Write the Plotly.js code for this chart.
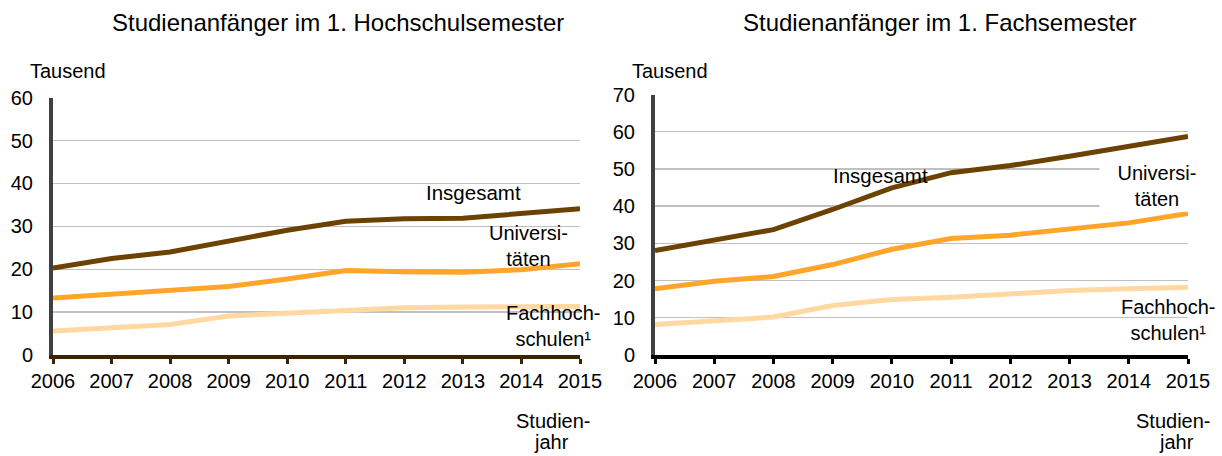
<!DOCTYPE html>
<html>
<head>
<meta charset="utf-8">
<script src="https://cdn.plot.ly/plotly-3.0.1.min.js"></script>
<style>html,body{margin:0;padding:0;background:#fff;}#chart{width:1222px;height:456px;}</style>
</head>
<body>
<div id="chart"></div>
<script>
// ---- data (thousands) ----
const years = [2006, 2007, 2008, 2009, 2010, 2011, 2012, 2013, 2014, 2015];

// Left: Studienanfänger im 1. Hochschulsemester
const hsInsgesamt = [20.3, 22.5, 24.0, 26.6, 29.1, 31.2, 31.8, 31.9, 32.9, 34.1];
const hsUni       = [13.3, 14.2, 15.2, 16.0, 17.7, 19.7, 19.4, 19.3, 19.9, 21.3];
const hsFH        = [5.6, 6.4, 7.1, 9.1, 9.8, 10.3, 11.0, 11.2, 11.3, 11.3];

// Right: Studienanfänger im 1. Fachsemester
const fsInsgesamt = [28.1, 31.0, 33.7, 39.1, 44.9, 49.0, 50.9, 53.4, 55.9, 58.7];
const fsUni       = [17.8, 19.8, 21.1, 24.3, 28.4, 31.3, 32.2, 33.7, 35.5, 38.0];
const fsFH        = [8.2, 9.2, 10.2, 13.3, 14.9, 15.5, 16.5, 17.3, 17.8, 18.2];

const leftTicks  = [0, 10, 20, 30, 40, 50, 60];
const rightTicks = [0, 10, 20, 30, 40, 50, 60, 70];

// ---- style ----
const FONT = "Liberation Sans, Arial, Helvetica, sans-serif";
const cIns = "#6b4200", cUni = "#ffa52a", cFH = "#ffd9a1";
const W = 1222, H = 456;

function line(x, y, color, xa, ya) {
  return {x: x, y: y, type: "scatter", mode: "lines", xaxis: xa, yaxis: ya,
          line: {color: color, width: 5}, hoverinfo: "skip", showlegend: false};
}
const traces = [
  line(years, hsFH, cFH, "x", "y"),
  line(years, hsUni, cUni, "x", "y"),
  line(years, hsInsgesamt, cIns, "x", "y"),
  line(years, fsFH, cFH, "x2", "y2"),
  line(years, fsUni, cUni, "x2", "y2"),
  line(years, fsInsgesamt, cIns, "x2", "y2")
];

function xAxis(domain, anchor, lineColor) {
  return {domain: domain, anchor: anchor, range: [2006, 2015], tickvals: years,
          ticktext: years.map(String), showgrid: false, zeroline: false,
          showline: true, linecolor: lineColor, linewidth: 4,
          ticks: "outside", ticklen: 5, tickwidth: 3, tickcolor: lineColor,
          tickfont: {family: FONT, size: 20, color: "#000"}, fixedrange: true};
}
function yAxis(domain, anchor, maxV, tv) {
  return {domain: domain, anchor: anchor, range: [0, maxV], tickvals: tv,
          showgrid: true, gridcolor: "#c0c0c0", gridwidth: 1.4, zeroline: false,
          showline: true, linecolor: "#404040", linewidth: 4, ticks: "",
          ticklabelstandoff: 12,
          tickfont: {family: FONT, size: 20, color: "#000"}, fixedrange: true};
}

function A(text, px, py, opts) {
  const a = {text: text, xref: "paper", yref: "paper", x: px / W, y: 1 - py / H,
             xanchor: "center", yanchor: "middle", showarrow: false, align: "center",
             font: {family: FONT, size: 20, color: "#000"}};
  return Object.assign(a, opts || {});
}

const annotations = [
  A("Studienanfänger im 1. Hochschulsemester", 338, 23, {font: {family: FONT, size: 24, color: "#000"}}),
  A("Studienanfänger im 1. Fachsemester", 940.5, 23, {font: {family: FONT, size: 24, color: "#000"}}),
  A("Tausend", 68, 71),
  A("Tausend", 670, 71),
  A("Insgesamt", 473.5, 192, {font: {family: FONT, size: 20.5, color: "#000"}}),
  A("Universi-<br>täten", 528, 246),
  A("Fachhoch-<br>schulen¹", 553, 326),
  A("Insgesamt", 880, 175, {font: {family: FONT, size: 20.5, color: "#000"}}),
  A("Universi-<br>täten", 1157, 186, {bgcolor: "#ffffff", width: 112, borderpad: 1}),
  A("Fachhoch-<br>schulen¹", 1168.5, 320),
  A("Studien-", 553, 421),
  A("jahr", 551, 442),
  A("Studien-", 1173, 421),
  A("jahr", 1176, 442)
];

const layout = {
  width: W, height: H, margin: {l: 0, r: 0, t: 0, b: 0},
  paper_bgcolor: "#fff", plot_bgcolor: "rgba(0,0,0,0)", showlegend: false,
  font: {family: FONT, color: "#000"},
  xaxis:  xAxis([53 / W, 580 / W], "y", "#3c2400"),
  yaxis:  yAxis([1 - 355 / H, 1 - 97.7 / H], "x", 60, leftTicks),
  xaxis2: xAxis([655 / W, 1188 / W], "y2", "#000000"),
  yaxis2: yAxis([1 - 355 / H, 1 - 94.5 / H], "x2", 70, rightTicks),
  annotations: annotations
};

Plotly.newPlot("chart", traces, layout, {staticPlot: true, displayModeBar: false});
</script>
</body>
</html>
